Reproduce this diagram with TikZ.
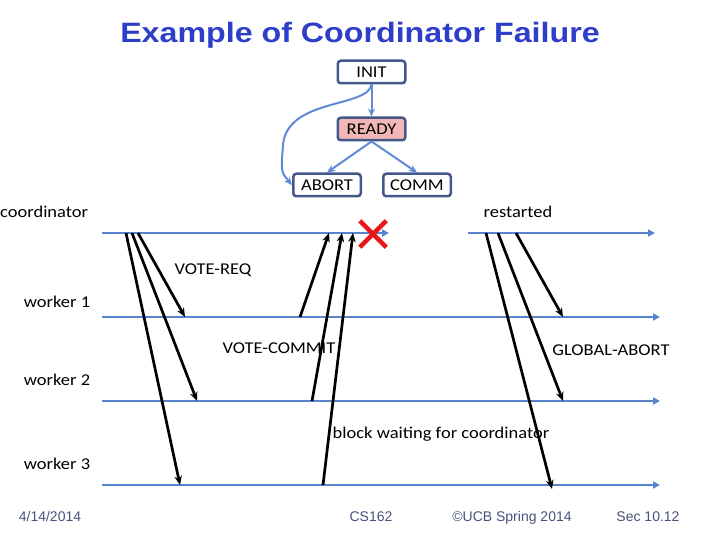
\documentclass[tikz,border=0pt]{standalone}
\usepackage{fontspec}
\setmainfont{Carlito}[FakeStretch=1.12]
\newfontfamily\titlefont{Liberation Sans}[FakeStretch=1.15]
\newfontfamily\footfont{Liberation Sans}
\usetikzlibrary{arrows.meta,shapes.misc}
\definecolor{titleblue}{RGB}{45,62,200}
\definecolor{stateborder}{RGB}{68,88,138}
\definecolor{readypink}{RGB}{242,182,182}
\definecolor{statearrow}{RGB}{95,138,215}
\definecolor{lineblue}{RGB}{88,132,205}
\definecolor{footgray}{RGB}{72,82,122}
\definecolor{crossred}{RGB}{232,22,22}
\newcommand\lblsize{\fontsize{16.5}{19}\selectfont}

\begin{document}
\begin{tikzpicture}[x=1pt, y=-1pt,
  st/.style={draw=stateborder, line width=2.5pt, rounded corners=3pt, fill=white,
             minimum width=67.5pt, minimum height=22.5pt, inner sep=0pt, font=\lblsize},
  lbl/.style={inner sep=0pt, font=\lblsize},
  tl/.style={draw=lineblue, line width=2pt, -{Triangle[length=7pt,width=7pt]}},
  sarr/.style={draw=statearrow, line width=2pt, -{Stealth[length=8pt,width=7pt]}},
  msg/.style={line width=2.7pt, -{Stealth[length=9pt,width=7.5pt]}},
  ft/.style={inner sep=0pt, anchor=base, text=footgray, font=\footfont\fontsize{14}{16}\selectfont}
]
  \useasboundingbox (0,0) rectangle (720,540);
  \node[text=titleblue, font=\titlefont\bfseries\fontsize{28}{32}\selectfont] (title) at (360,35)
    {Example of Coordinator Failure};

  \node[st] (init)  at (371.5,72)  {INIT};
  \node[st, fill=readypink] (ready) at (371.5,129) {READY};
  \node[st] (abort) at (327,185)   {ABORT};
  \node[st] (comm)  at (417,185)   {COMM};
  \draw[sarr] (init) -- (ready);
  \draw[sarr] (ready.south) -- (abort.north); \draw[sarr] (ready.south) -- (comm.north);
  \draw[sarr] (init.south) .. controls (368,108) and (287,98) .. (283,145)
    .. controls (281,172) .. (abort.west);

  \coordinate (co-s) at (102,233); \coordinate (co-e) at (389,233);
  \coordinate (re-s) at (468,233); \coordinate (re-e) at (655,233);
  \draw[tl] (co-s) -- (co-e); \draw[tl] (re-s) -- (re-e);
  \foreach \w/\y in {1/317,2/401,3/485} {
    \coordinate (w\w-s) at (102,\y); \coordinate (w\w-e) at (660,\y);
    \draw[tl] (w\w-s) -- (w\w-e);
  }

  \node[lbl, anchor=west] (coord) at (0,212) {coordinator};
  \node[lbl] (restart) at (518,212) {restarted};
  \node[lbl] (w1) at (57,302) {worker 1};
  \node[lbl] (w2) at (57,380) {worker 2};
  \node[lbl] (w3) at (57,464) {worker 3};
  \node[lbl] (vreq)  at (213,270) {VOTE-REQ};
  \node[lbl] (vcom)  at (279,348) {VOTE-COMMIT};
  \node[lbl] (gabort) at (611,350) {GLOBAL-ABORT};
  \node[lbl] (block) at (441,434) {block waiting for coordinator};

  \foreach \n/\sx/\ex/\ey in {a/126/180/485, b/132/197/401, c/138/185/317} {
    \coordinate (rq\n-s) at (\sx,233); \coordinate (rq\n-e) at (\ex,\ey);
    \draw[msg] (rq\n-s) -- (rq\n-e);
  }
  \foreach \n/\sx/\sy/\ex in {a/300/317/329, b/312/401/342, c/323/485/353} {
    \coordinate (vc\n-s) at (\sx,\sy); \coordinate (vc\n-e) at (\ex,233);
    \draw[msg] (vc\n-s) -- (vc\n-e);
  }
  \foreach \n/\sx/\ex/\ey in {a/486/552/489, b/498/563/401, c/516/563/317} {
    \coordinate (ga\n-s) at (\sx,233); \coordinate (ga\n-e) at (\ex,\ey);
    \draw[msg] (ga\n-s) -- (ga\n-e);
  }

  \node[cross out, draw=crossred, line width=4.5pt, minimum size=22pt, inner sep=0pt] (crash) at (373,234) {};

  \node[ft] (date) at (50,521)  {4/14/2014};
  \node[ft] (course) at (371,521) {CS162};
  \node[ft] (copy) at (512,521) {©UCB Spring 2014};
  \node[ft] (sec)  at (648,521) {Sec 10.12};
\end{tikzpicture}
\end{document}
